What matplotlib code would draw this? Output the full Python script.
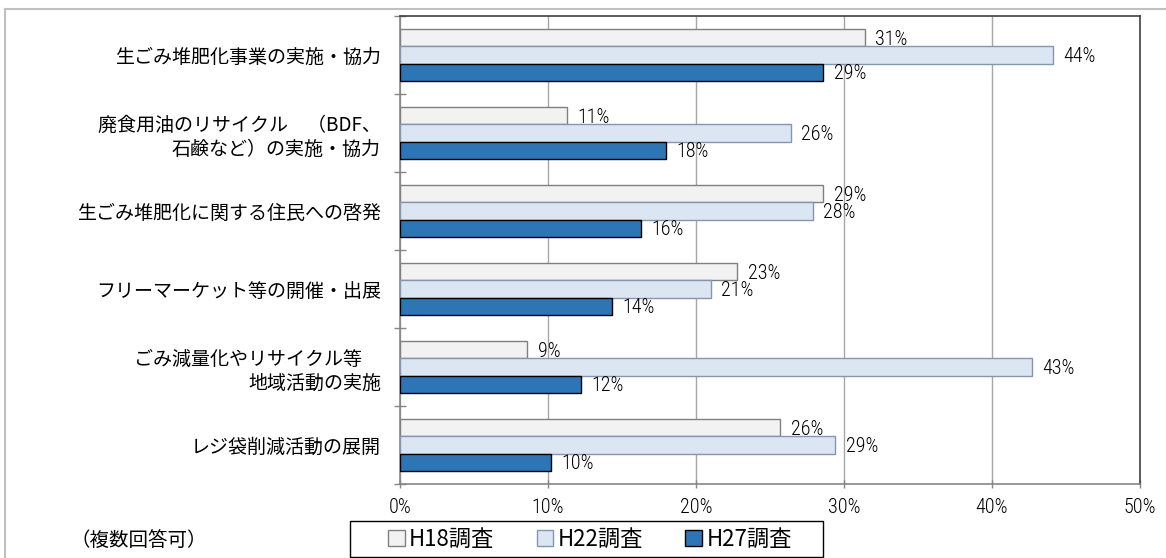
import matplotlib
matplotlib.use('Agg')
import matplotlib.pyplot as plt
from matplotlib.patches import Patch, Rectangle
from matplotlib.lines import Line2D
import numpy as np

plt.rcParams['font.family'] = ['Noto Sans CJK JP', 'DejaVu Sans']
NUM_FONT = ['Roboto Condensed', 'Liberation Sans Narrow', 'Noto Sans CJK JP', 'DejaVu Sans']

categories = [
    "生ごみ堆肥化事業の実施・協力",
    "廃食用油のリサイクル　（BDF、\n石鹸など）の実施・協力",
    "生ごみ堆肥化に関する住民への啓発",
    "フリーマーケット等の開催・出展",
    "ごみ減量化やリサイクル等　\n地域活動の実施",
    "レジ袋削減活動の展開",
]
series_names = ["H18調査", "H22調査", "H27調査"]
h18 = [31.4, 11.3, 28.6, 22.8, 8.6, 25.7]
h22 = [44.1, 26.4, 27.9, 21.0, 42.7, 29.4]
h27 = [28.6, 18.0, 16.3, 14.3, 12.2, 10.2]
x_ticks = [0, 10, 20, 30, 40, 50]
x_ticklabels = ["0%", "10%", "20%", "30%", "40%", "50%"]
note = "（複数回答可）"

face = ["#f2f2f2", "#dce6f2", "#2e75b6"]
edge = ["#808080", "#8496b0", "#000000"]

W, H = 1166, 558
fig = plt.figure(figsize=(W / 100, H / 100), dpi=100)
ax = fig.add_axes([400 / W, 1 - 484 / H, 740 / W, 468 / H])

y = np.arange(len(categories))
bh = 0.222
for i, vals in enumerate([h18, h22, h27]):
    pos = y + (i - 1) * bh
    ax.barh(pos, vals, height=bh, color=face[i], edgecolor=edge[i], linewidth=1, zorder=3)
    for v, p in zip(vals, pos):
        ax.annotate(f"{v:.0f}%", xy=(v, p), xytext=(7.5, -1), textcoords='offset points',
                    va='center', ha='left', fontsize=14.5, family=NUM_FONT,
                    fontweight='light', zorder=4)

ax.set_xlim(0, 50)
ax.set_ylim(len(categories) - 0.5, -0.5)
ax.set_xticks(x_ticks)
ax.set_xticklabels(x_ticklabels, fontsize=14.5, family=NUM_FONT, fontweight='light')
ax.tick_params(axis='x', direction='inout', length=6, width=1, color='#868686', pad=7)
ax.set_yticks(y)
ax.set_yticklabels(categories, fontsize=13.7)
ax.tick_params(axis='y', which='major', length=0, pad=13.7)
ax.set_yticks(np.arange(-0.5, len(categories), 1), minor=True)
ax.tick_params(axis='y', which='minor', direction='inout', length=9, width=1, color='#868686')

ax.xaxis.grid(True, color='#a6a6a6', linewidth=1, zorder=0)
ax.set_axisbelow(True)
ax.spines['left'].set_color('#868686')
ax.spines['bottom'].set_color('#868686')
ax.spines['top'].set_color('#404040')
ax.spines['right'].set_color('#404040')
for s in ax.spines.values():
    s.set_linewidth(1.2)

# figure border
fig.add_artist(Line2D([5 / W, 1], [1 - 9 / H] * 2, color='#c0c0c0', lw=1.5, transform=fig.transFigure))
fig.add_artist(Line2D([5 / W, 5 / W], [0, 1 - 9 / H], color='#c0c0c0', lw=1.5, transform=fig.transFigure))

# legend
fig.add_artist(Rectangle((350 / W, 1 - 557 / H), (823 - 350) / W, 36 / H, fill=False,
                         edgecolor='black', lw=1, transform=fig.transFigure))
handles = [Patch(facecolor=face[i], edgecolor=edge[i], linewidth=1) for i in range(3)]
fig.legend(handles, series_names, loc='center', bbox_to_anchor=(590 / W, 1 - 539 / H),
           ncol=3, frameon=False, fontsize=16, handlelength=0.75, handleheight=0.75,
           handletextpad=0.2, columnspacing=1.9, borderpad=0.1)

fig.text(70 / W, 1 - 540 / H, note, fontsize=14, va='center', ha='left')

fig.savefig('out.png', dpi=100)
